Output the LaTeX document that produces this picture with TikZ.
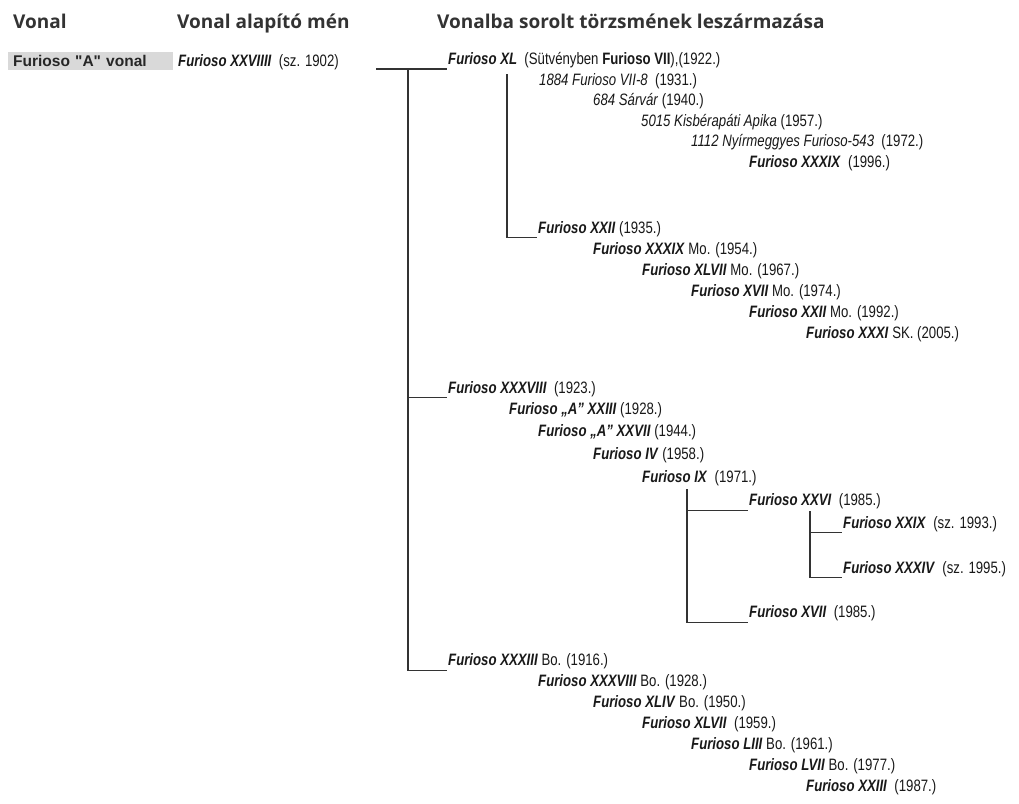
\documentclass[tikz,border=0pt]{standalone}
\usepackage{fontspec}
\setmainfont{Liberation Sans}[FakeStretch=0.8]
\newfontfamily\headfont{Open Sans}
\newfontfamily\boxfont{Liberation Sans}
\newcommand{\fur}[1]{\textbf{\textit{Furioso #1}}}
\begin{document}
\begin{tikzpicture}[x=1pt,y=-1pt,
  every node/.style={anchor=base west,inner xsep=1pt,inner ysep=1.2pt},
  ln/.style={font=\fontsize{16.5}{18}\selectfont,text=black!90},
  head/.style={font=\headfont\bfseries\fontsize{19}{21}\selectfont,text=black!80},
  vbox/.style={fill=black!15,anchor=north west,text width=155pt,inner xsep=5pt,inner ysep=0pt,
    minimum height=18pt,font=\boxfont\bfseries\fontsize{15.5}{17}\selectfont,text=black!85},
  tree/.style={line width=1.1pt,black!80}]
\useasboundingbox[fill=white] (0,0) rectangle (1019,803);

% fejlec
\node[head] (h1) at (12,28) {Vonal};
\node[head] (h2) at (176,28) {Vonal alapító mén};
\node[head] (h3) at (436,28) {Vonalba sorolt törzsmének leszármazása};

\node[vbox] (vonal) at (8,52) {Furioso \textquotedbl A\textquotedbl{} vonal};
\node[ln] (alap) at (177,66) {\fur{XXVIIII}\ \ (sz. 1902)};

% Furioso XL ag
\node[ln] (xl) at (447,64) {\fur{XL}\ \ (Sütvényben \textbf{Furioso VII}),(1922.)};
\node[ln] (a1) at (538,85.5) {\textit{1884 Furioso VII-8}\ \ (1931.)};
\node[ln] (a2) at (592,105.5) {\textit{684 Sárvár} (1940.)};
\node[ln] (a3) at (640,126.5) {\textit{5015 Kisbérapáti Apika} (1957.)};
\node[ln] (a4) at (690,146.5) {\textit{1112 Nyírmeggyes Furioso-543}\ \ (1972.)};
\node[ln] (a5) at (748,167.5) {\fur{XXXIX}\ \ (1996.)};

\node[ln] (b0) at (537,233) {\fur{XXII} (1935.)};
\node[ln] (b1) at (592,254.5) {\fur{XXXIX} Mo. (1954.)};
\node[ln] (b2) at (641,275.5) {\fur{XLVII} Mo. (1967.)};
\node[ln] (b3) at (690,296.5) {\fur{XVII} Mo. (1974.)};
\node[ln] (b4) at (748,317.5) {\fur{XXII} Mo. (1992.)};
\node[ln] (b5) at (805,338.5) {\fur{XXXI} SK. (2005.)};

% Furioso XXXVIII ag
\node[ln] (c0) at (447,393) {\fur{XXXVIII}\ \ (1923.)};
\node[ln] (c1) at (508,414.5) {\fur{„A” XXIII} (1928.)};
\node[ln] (c2) at (537,436.5) {\fur{„A” XXVII} (1944.)};
\node[ln] (c3) at (592,459.5) {\fur{IV} (1958.)};
\node[ln] (c4) at (641,482.5) {\fur{IX}\ \ (1971.)};
\node[ln] (c5) at (748,505.5) {\fur{XXVI}\ \ (1985.)};
\node[ln] (c6) at (842,528) {\fur{XXIX}\ \ (sz. 1993.)};
\node[ln] (c7) at (842,573) {\fur{XXXIV}\ \ (sz. 1995.)};
\node[ln] (c8) at (748,617.5) {\fur{XVII}\ \ (1985.)};

% Furioso XXXIII ag
\node[ln] (d0) at (447,665.5) {\fur{XXXIII} Bo. (1916.)};
\node[ln] (d1) at (537,686.5) {\fur{XXXVIII} Bo. (1928.)};
\node[ln] (d2) at (592,707.5) {\fur{XLIV} Bo. (1950.)};
\node[ln] (d3) at (641,728.5) {\fur{XLVII}\ \ (1959.)};
\node[ln] (d4) at (690,749.5) {\fur{LIII} Bo. (1961.)};
\node[ln] (d5) at (748,770.5) {\fur{LVII} Bo. (1977.)};
\node[ln] (d6) at (805,791.5) {\fur{XXIII}\ \ (1987.)};

% vonalak
\coordinate (t0) at (376,69);
\coordinate (tr) at (408,69);
\coordinate (v2) at (507,74);
\coordinate (v3) at (687,489);
\coordinate (v4) at (810,511);

\draw[tree] (t0) -- (t0 -| xl.south west);
\draw[tree] (tr) |- (c0.south west);
\draw[tree] (tr) |- (d0.south west);
\draw[tree] (v2) |- (b0.south west);
\draw[tree] (v3) |- (c5.south west);
\draw[tree] (v3) |- (c8.south west);
\draw[tree] (v4) |- (c6.south west);
\draw[tree] (v4) |- (c7.south west);

\end{tikzpicture}
\end{document}
